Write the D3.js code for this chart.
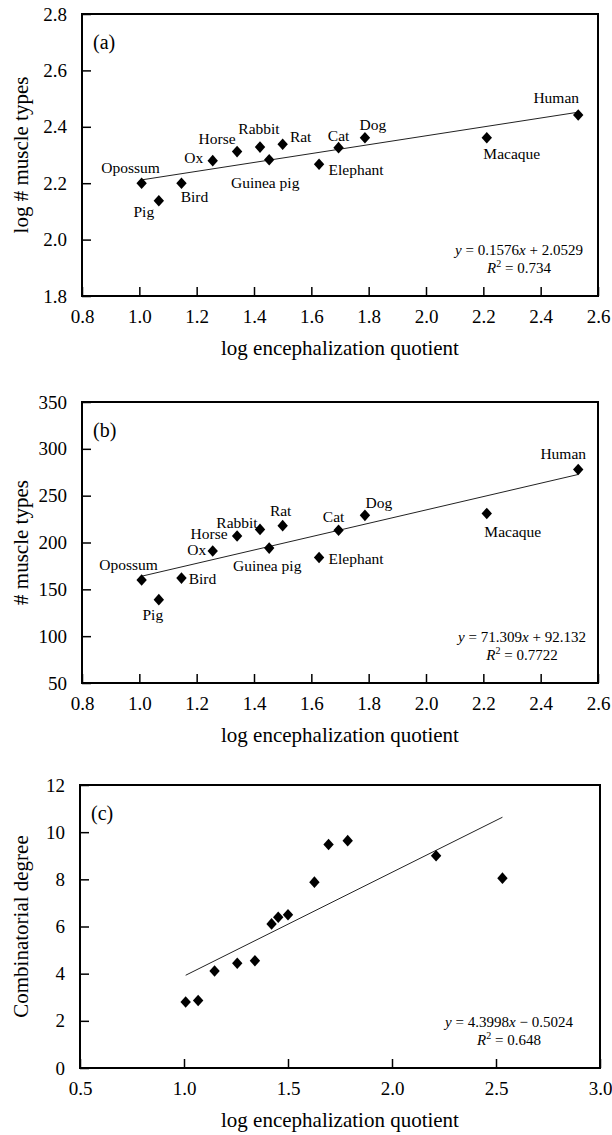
<!DOCTYPE html>
<html>
<head>
<meta charset="utf-8">
<script src="https://cdn.jsdelivr.net/npm/d3@7"></script>
<style>
body{margin:0;background:#fff}
svg{display:block}
</style>
</head>
<body>
<svg></svg>
<script>
// data, species ordered by log EQ
var species=["Opossum","Pig","Bird","Ox","Horse","Rabbit","Guinea pig","Rat","Elephant","Cat","Dog","Macaque","Human"];
var logEQ=[1.008,1.068,1.147,1.256,1.341,1.421,1.453,1.500,1.627,1.695,1.787,2.212,2.531];
var logMuscleTypes=[2.200,2.138,2.200,2.280,2.312,2.328,2.283,2.338,2.267,2.326,2.361,2.361,2.442];
var muscleTypes=[160,139,162,191,207,214,194,218,184,213,229,231,278];
var combDegree=[2.80,2.86,4.11,4.44,4.55,6.11,6.39,6.50,7.88,9.48,9.64,9.00,8.05];

var xTicksAB=[0.8,1.0,1.2,1.4,1.6,1.8,2.0,2.2,2.4,2.6];
var yTicksA=[1.8,2.0,2.2,2.4,2.6,2.8];
var yTicksB=[50,100,150,200,250,300,350];
var xTicksC=[0.5,1.0,1.5,2.0,2.5,3.0];
var yTicksC=[0,2,4,6,8,10,12];

// trend lines: slope, intercept, R^2 as printed
var fitA=[0.1576,2.0529], r2A="0.734";
var fitB=[71.309,92.132], r2B="0.7722";
var fitC=[4.3998,-0.5024], r2C="0.648";

// label offsets (text centre relative to the point), layout only
var labOffA=[[-11,-16],[-15,11],[13,13],[-19,-3],[-20,-13],[-1,-19],[-4,23],[18,-8],[37,5],[0,-12],[8,-13],[25,16],[-22,-17]];
var labOffB=[[-13,-15],[-6,15],[21,0],[-16,-1],[-28,-2],[-23,-7],[-2,17],[-2,-15],[37,1],[-5,-14],[14,-13],[26,18],[-15,-16]];

var serif="Liberation Serif";

var svg=d3.select('svg').attr('width',612).attr('height',1135)
  .attr('font-family',serif);

var diamond={draw:function(ctx){
  ctx.moveTo(0,-5.8);ctx.lineTo(5.2,0);ctx.lineTo(0,5.8);ctx.lineTo(-5.2,0);ctx.closePath();
}};

function fmtEq(fit){
  var s=fit[1]<0?' \u2212 ':' + ';
  return [' = '+d3.format('.4f')(fit[0]).replace(/0+$/,''),s+Math.abs(fit[1])];
}

function panel(p){
  var x=d3.scaleLinear().domain(p.xDom).range([p.left,p.right]);
  var y=d3.scaleLinear().domain(p.yDom).range([p.bottom,p.top]);
  var g=svg.append('g').attr('font-family',serif);

  var xa=g.append('g')
    .attr('transform','translate(0,'+p.bottom+')')
    .call(d3.axisBottom(x).tickValues(p.xTicks).tickFormat(d3.format('.1f')).tickSize(-9).tickPadding(14));
  var ya=g.append('g')
    .attr('transform','translate('+p.left+',0)')
    .call(d3.axisLeft(y).tickValues(p.yTicks).tickFormat(p.yFmt).tickSize(-9).tickPadding(15));
  [xa,ya].forEach(function(a){
    a.attr('font-family',serif).attr('font-size',19);
    a.select('.domain').remove();
    a.selectAll('line').attr('stroke','#000').attr('stroke-width',1.5);
    a.selectAll('text').attr('fill','#000');
  });

  g.append('rect')
    .attr('x',p.left).attr('y',p.top)
    .attr('width',p.right-p.left).attr('height',p.bottom-p.top)
    .attr('fill','none').attr('stroke','#000').attr('stroke-width',2);

  // fit line over the data range
  var ext=d3.extent(logEQ);
  g.append('line')
    .attr('x1',x(ext[0])).attr('y1',y(p.fit[0]*ext[0]+p.fit[1]))
    .attr('x2',x(ext[1])).attr('y2',y(p.fit[0]*ext[1]+p.fit[1]))
    .attr('stroke','#222').attr('stroke-width',1);

  g.selectAll('path.pt')
    .data(logEQ.map(function(d,i){return [d,p.ys[i]];}))
    .enter().append('path')
    .attr('class','pt')
    .attr('d',d3.symbol().type(diamond))
    .attr('transform',function(d){return 'translate('+x(d[0])+','+y(d[1])+')';})
    .attr('fill','#000');

  if(p.labOff){
    g.selectAll('text.lab')
      .data(species)
      .enter().append('text')
      .attr('class','lab')
      .attr('x',function(d,i){return x(logEQ[i])+p.labOff[i][0];})
      .attr('y',function(d,i){return y(p.ys[i])+p.labOff[i][1];})
      .attr('dy','0.35em')
      .attr('text-anchor','middle')
      .attr('font-size',15.5)
      .text(function(d){return d;});
  }

  g.append('text')
    .attr('x',p.left+11).attr('y',p.top+35)
    .attr('font-size',20)
    .text(p.tag);

  // equation
  var parts=fmtEq(p.fit);
  var e1=g.append('text')
    .attr('x',p.eqX).attr('y',p.bottom-41)
    .attr('text-anchor','middle').attr('font-size',15);
  e1.append('tspan').attr('font-style','italic').text('y');
  e1.append('tspan').text(parts[0]);
  e1.append('tspan').attr('font-style','italic').text('x');
  e1.append('tspan').text(parts[1]);
  var e2=g.append('text')
    .attr('x',p.eqX).attr('y',p.bottom-23)
    .attr('text-anchor','middle').attr('font-size',15);
  e2.append('tspan').attr('font-style','italic').text('R');
  e2.append('tspan').attr('font-size',10).attr('dy',-6).text('2');
  e2.append('tspan').attr('dy',6).text(' = '+p.r2);

  g.append('text')
    .attr('x',(p.left+p.right)/2).attr('y',p.bottom+59)
    .attr('text-anchor','middle').attr('font-size',21)
    .text('log encephalization quotient');

  g.append('text')
    .attr('transform','translate(28,'+(p.top+p.bottom)/2+') rotate(-90)')
    .attr('text-anchor','middle').attr('font-size',21)
    .text(p.yTitle);
}

panel({left:82,right:598,top:14,bottom:296,xDom:[0.8,2.6],yDom:[1.8,2.8],
  xTicks:xTicksAB,yTicks:yTicksA,yFmt:d3.format('.1f'),ys:logMuscleTypes,
  fit:fitA,r2:r2A,labOff:labOffA,tag:'(a)',eqX:519,yTitle:'log # muscle types'});

panel({left:82,right:598,top:402,bottom:683,xDom:[0.8,2.6],yDom:[50,350],
  xTicks:xTicksAB,yTicks:yTicksB,yFmt:d3.format('d'),ys:muscleTypes,
  fit:fitB,r2:r2B,labOff:labOffB,tag:'(b)',eqX:522,yTitle:'# muscle types'});

panel({left:80,right:600,top:785,bottom:1068,xDom:[0.5,3.0],yDom:[0,12],
  xTicks:xTicksC,yTicks:yTicksC,yFmt:d3.format('d'),ys:combDegree,
  fit:fitC,r2:r2C,labOff:null,tag:'(c)',eqX:509,yTitle:'Combinatorial degree'});
</script>
</body>
</html>
